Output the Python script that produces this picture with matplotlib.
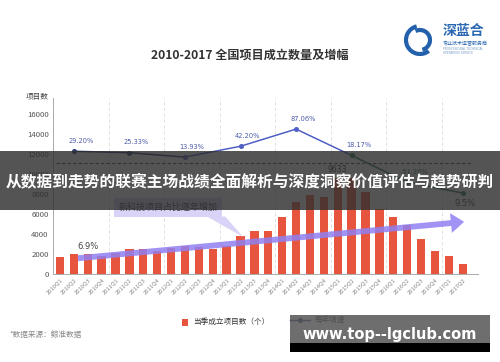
import numpy as np
import matplotlib
matplotlib.use("Agg")
import matplotlib.pyplot as plt
from matplotlib.patches import Rectangle, Polygon, FancyArrowPatch, Arc

plt.rcParams['font.family'] = ['Noto Sans CJK SC', 'DejaVu Sans']

# quarterly counts
quarters = [f"{y}Q{q}" for y in range(2010, 2018) for q in range(1, 5)][:30]
counts = [1700, 2000, 2000, 1800, 2070, 2470, 2500, 2330, 2570, 2830,
          2730, 2500, 2830, 3800, 4270, 4300, 5670, 7230, 7900, 7750,
          9633, 9600, 8200, 6500, 5700, 4950, 3500, 2300, 1800, 1050]

# yearly growth, plotted at Q2 of each year
growth_idx = [1, 5, 9, 13, 17, 21, 25, 29]
growth = [29.20, 25.33, 13.93, 42.20, 87.06, 18.17, -51.36, -80.0]
growth_labels = ["29.20%", "25.33%", "13.93%", "42.20%", "87.06%", "18.17%", "-51.36%", ""]
seg_colors = ["#2c3b6e", "#2c3b6e", "#4f5fc4", "#4f5fc4", "#4f5fc4", "#2e7b4c", "#2e7b4c"]
label_colors = ["#4d5ca8"] * 6 + ["#2e7b4c", "#2e7b4c"]

avg_line = 11100
share_start, share_end = (1.1, 1550), (29.3, 5250)
share_labels = [(2.0, 2350, "6.9%"), (29.2, 6650, "9.5%")]

bar_color = "#e8553f"

fig = plt.figure(figsize=(5, 3.62), dpi=100)
fig.patch.set_facecolor("white")
ax = fig.add_axes([0.106, 0.243, 0.85, 0.486])
x = np.arange(len(counts))
ax.bar(x, counts, width=0.6, color=bar_color, zorder=3)
ax.set_xlim(-0.5, 30.1)
ax.set_ylim(0, 17600)
ax.set_yticks(range(0, 16001, 2000))
ax.tick_params(axis="y", length=0, labelsize=5.6, labelcolor="#555555", pad=3)
ax.set_xticks(x)
ax.set_xticklabels(quarters, rotation=45, ha="right", rotation_mode="anchor",
                   fontsize=4.2, color="#888888")
ax.tick_params(axis="x", length=0, pad=2)
for s in ["top", "right"]:
    ax.spines[s].set_visible(False)
for s in ["left", "bottom"]:
    ax.spines[s].set_color("#aaaaaa")
    ax.spines[s].set_linewidth(0.7)
for gx in np.arange(3.5, 30, 4):
    ax.axvline(gx, color="#dcdcdc", lw=0.6, ls=(0, (4, 3)), zorder=1)
ax.hlines(avg_line, -0.3, 29.6, colors="#444444", lw=0.8, linestyles=(0, (3, 2)), zorder=4)

# growth line on twin axis
ax2 = ax.twinx()
ax2.set_ylim(-291.5, 168.0)
ax2.axis("off")
for i in range(len(growth) - 1):
    ax2.plot(growth_idx[i:i + 2], growth[i:i + 2], color=seg_colors[i], lw=1.1, zorder=5)
for i in range(len(growth)):
    c = seg_colors[min(i, len(seg_colors) - 1)]
    ax2.plot(growth_idx[i], growth[i], "o", ms=2.6, color=c, zorder=6)
    if growth_labels[i]:
        ax2.annotate(growth_labels[i], (growth_idx[i], growth[i]), xytext=(5, 6),
                     textcoords="offset points", ha="center", fontsize=4.8,
                     color=label_colors[i], family="DejaVu Sans")

# purple share arrow
arr = FancyArrowPatch(share_start, share_end, connectionstyle="arc3,rad=0.0",
                      arrowstyle="simple,tail_width=0.22,head_width=0.75,head_length=0.5",
                      mutation_scale=19, color="#8f80f2", alpha=0.85, lw=0, zorder=7)
ax.add_patch(arr)
for sx, sy, st in share_labels:
    ax.text(sx, sy, st, fontsize=6, color="#444444", ha="center", va="bottom",
            family="DejaVu Sans", zorder=8)
ax.text(20, counts[20] + 350, "9633", fontsize=5.5, color="#333333", ha="center",
        va="bottom", family="DejaVu Sans", zorder=8)

# callout box
ax.text(7.8, 6650, "新科技项目占比逐年增加", fontsize=6.5, color="#444444", ha="center",
        va="center", zorder=8,
        bbox=dict(boxstyle="square,pad=0.5", fc="#d9d3f7", ec="none"))
ax.add_patch(Polygon([(10.6, 5750), (11.9, 5750), (13.2, 3700)], closed=True,
                     fc="#d9d3f7", ec="none", zorder=6))

# title and labels
fig.text(0.5, 1 - 55 / 362, "2010-2017 全国项目成立数量及增幅", ha="center", va="center",
         fontsize=8.7, color="#333333", weight="bold")
fig.text(37 / 500, 1 - 97 / 362, "项目数", ha="center", va="center", fontsize=5.5,
         color="#444444")

# legend
fig.patches.append(Rectangle((182 / 500, 1 - 326 / 362), 6 / 500, 7 / 362,
                             transform=fig.transFigure, fc=bar_color, ec="none"))
fig.text(193 / 500, 1 - 322 / 362, "当季成立项目数（个）", fontsize=5.5, color="#333333",
         va="center")
fig.add_artist(plt.Line2D([290 / 500, 310 / 500], [1 - 320 / 362] * 2, color="#2c3b6e",
                          lw=1, transform=fig.transFigure))
fig.add_artist(plt.Line2D([300 / 500], [1 - 320 / 362], marker="o", ms=2.6, color="#2c3b6e",
                          transform=fig.transFigure))
fig.text(315 / 500, 1 - 320 / 362, "每年增速", fontsize=5.5, color="#333333", va="center")
fig.text(10 / 500, 1 - 335 / 362, "*数据来源：鲸准数据", fontsize=5.5, color="#888888",
         va="center")

# logo
for r, t1, t2 in [(14, 100, 300), (10, 280, 470)]:
    fig.add_artist(Arc((420 / 500, 1 - 40 / 362), 2 * r / 500, 2 * r / 362, theta1=t1,
                       theta2=t2, transform=fig.transFigure, color="#2461ad", lw=3))
fig.text(443 / 500, 1 - 31 / 362, "深蓝合", fontsize=10, color="#2a67b3", weight="bold",
         va="center")
fig.text(443 / 500, 1 - 44 / 362, "专业技术运营服务商", fontsize=3.6, color="#2a67b3",
         va="center")
fig.text(443 / 500, 1 - 51 / 362, "PROFESSIONAL TECHNICAL\nOPERATION SERVICE",
         fontsize=2.2, color="#7a9cc8", va="center", family="DejaVu Sans", linespacing=1.2)

# overlay banner
fig.patches.append(Rectangle((0, 1 - 210 / 362), 1, 59 / 362, transform=fig.transFigure,
                             fc="#2e2e2e", ec="none", alpha=0.82, zorder=20))
fig.text(0.5, 1 - 181 / 362, "从数据到走势的联赛主场战绩全面解析与深度洞察价值评估与趋势研判",
         ha="center", va="center", fontsize=11.3, color="white", weight="bold", zorder=21)

# watermark
fig.patches.append(Rectangle((290 / 500, 1 - 343 / 362), 200 / 500, 28 / 362,
                             transform=fig.transFigure, fc="#555555", ec="none",
                             alpha=0.85, zorder=20))
fig.patches.append(Rectangle((290 / 500, 1 - 352 / 362), 200 / 500, 9 / 362,
                             transform=fig.transFigure, fc="black", ec="none", zorder=20))
fig.text(390 / 500, 1 - 335 / 362, "www.top--lgclub.com", ha="center", va="center",
         fontsize=10.5, color="white", weight="bold", family="DejaVu Sans", zorder=21)

fig.savefig("out.png", dpi=100)
